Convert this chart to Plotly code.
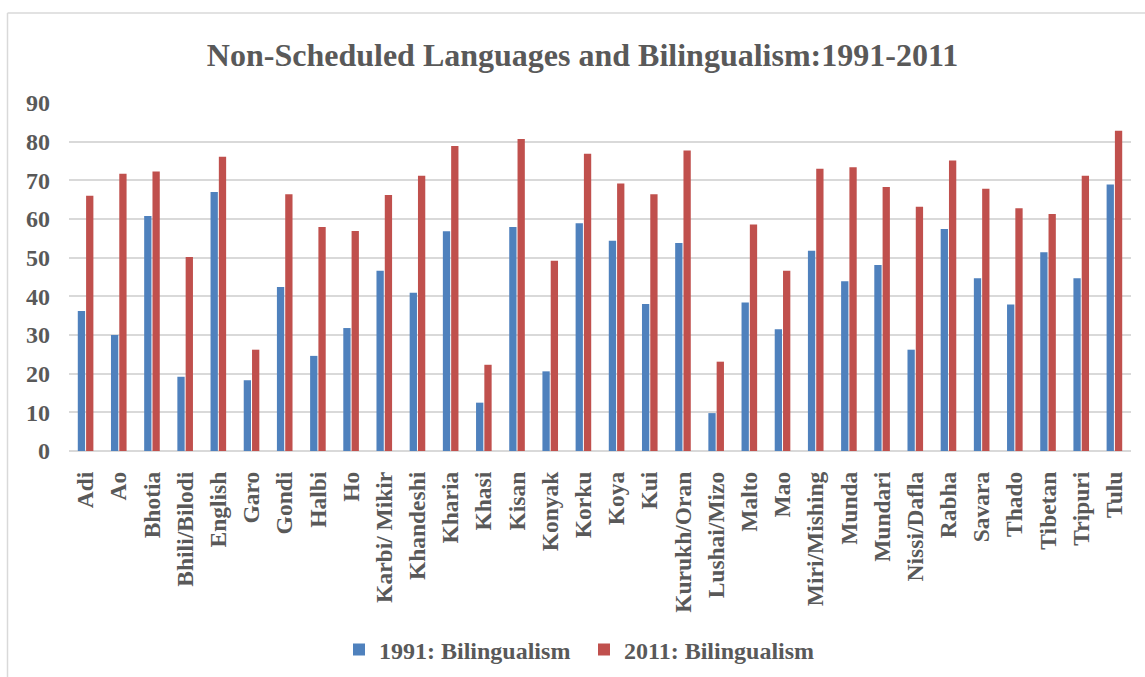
import plotly.graph_objects as go

# Non-scheduled languages of India: percentage bilingual, census 1991 vs 2011
languages = [
    "Adi", "Ao", "Bhotia", "Bhili/Bilodi", "English", "Garo", "Gondi", "Halbi",
    "Ho", "Karbi/ Mikir", "Khandeshi", "Kharia", "Khasi", "Kisan", "Konyak",
    "Korku", "Koya", "Kui", "Kurukh/Oran", "Lushai/Mizo", "Malto", "Mao",
    "Miri/Mishing", "Munda", "Mundari", "Nissi/Dafla", "Rabha", "Savara",
    "Thado", "Tibetan", "Tripuri", "Tulu",
]
bilingual_1991 = [
    36.2, 30.0, 60.8, 19.2, 67.0, 18.3, 42.4, 24.6, 31.8, 46.6, 40.9, 56.8,
    12.5, 57.9, 20.6, 58.9, 54.4, 38.0, 53.8, 9.8, 38.4, 31.5, 51.8, 43.9,
    48.1, 26.2, 57.4, 44.7, 37.9, 51.4, 44.7, 68.9,
]
bilingual_2011 = [
    66.0, 71.7, 72.3, 50.2, 76.1, 26.2, 66.4, 57.9, 56.9, 66.2, 71.2, 78.9,
    22.3, 80.7, 49.2, 76.9, 69.2, 66.4, 77.7, 23.1, 58.6, 46.6, 73.0, 73.4,
    68.3, 63.2, 75.1, 67.8, 62.8, 61.3, 71.2, 82.8,
]
y_ticks = [0, 10, 20, 30, 40, 50, 60, 70, 80, 90]

BLUE = "#4F81BD"
RED = "#C0504D"
TEXT = "#595959"
GRID = "#D9D9D9"
SERIF = "Liberation Serif, Times New Roman, serif"

W, H = 1145, 677
ML, MR, MT, MB = 69, 14, 103, 226
PW, PH = W - ML - MR, H - MT - MB


def px_x(px):
    return (px - ML) / PW


def px_y(py):
    return (H - MB - py) / PH


fig = go.Figure()
fig.add_trace(go.Bar(x=languages, y=bilingual_1991, name="1991: Bilingualism",
                     marker=dict(color=BLUE, line=dict(width=0))))
fig.add_trace(go.Bar(x=languages, y=bilingual_2011, name="2011: Bilingualism",
                     marker=dict(color=RED, line=dict(width=0))))

# chart frame: thin grey edge along the left and top
fig.add_shape(type="line", xref="paper", yref="paper",
              x0=px_x(7.5), x1=px_x(7.5), y0=px_y(13), y1=px_y(H + 5),
              line=dict(color="#D9D9D9", width=1.5))
fig.add_shape(type="line", xref="paper", yref="paper",
              x0=px_x(7.5), x1=px_x(W + 5), y0=px_y(13), y1=px_y(13),
              line=dict(color="#D9D9D9", width=1.5))

fig.update_layout(
    width=W, height=H,
    margin=dict(l=ML, r=MR, t=MT, b=MB, autoexpand=False),
    paper_bgcolor="white", plot_bgcolor="white",
    font=dict(family=SERIF, color=TEXT, size=21, weight="bold"),
    title=dict(text="Non-Scheduled Languages and Bilingualism:1991-2011",
               font=dict(family=SERIF, size=32, color=TEXT, weight="bold"),
               x=582.5 / W, xanchor="center", y=1 - 55 / H, yanchor="middle"),
    barmode="group", bargap=0.5, bargroupgap=0.12,
    showlegend=True,
    legend=dict(orientation="h", x=px_x(339), xanchor="left",
                y=px_y(650), yanchor="middle",
                font=dict(family=SERIF, size=24, color=TEXT, weight="bold"),
                entrywidth=200, entrywidthmode="pixels",
                bgcolor="rgba(0,0,0,0)"),
    xaxis=dict(tickangle=-90, showgrid=False, showline=False, ticks="",
               tickfont=dict(family=SERIF, size=23.5, color=TEXT, weight="bold"),
               ticklabelstandoff=15),
    yaxis=dict(range=[0, 90], tickvals=y_ticks, showgrid=True, gridcolor=GRID,
               gridwidth=1.5, zeroline=True, zerolinecolor=GRID, zerolinewidth=1.5,
               showline=False, ticks="", ticklabelstandoff=18,
               tickfont=dict(family=SERIF, size=24, color=TEXT, weight="bold")),
)

fig.write_html("out.html")
